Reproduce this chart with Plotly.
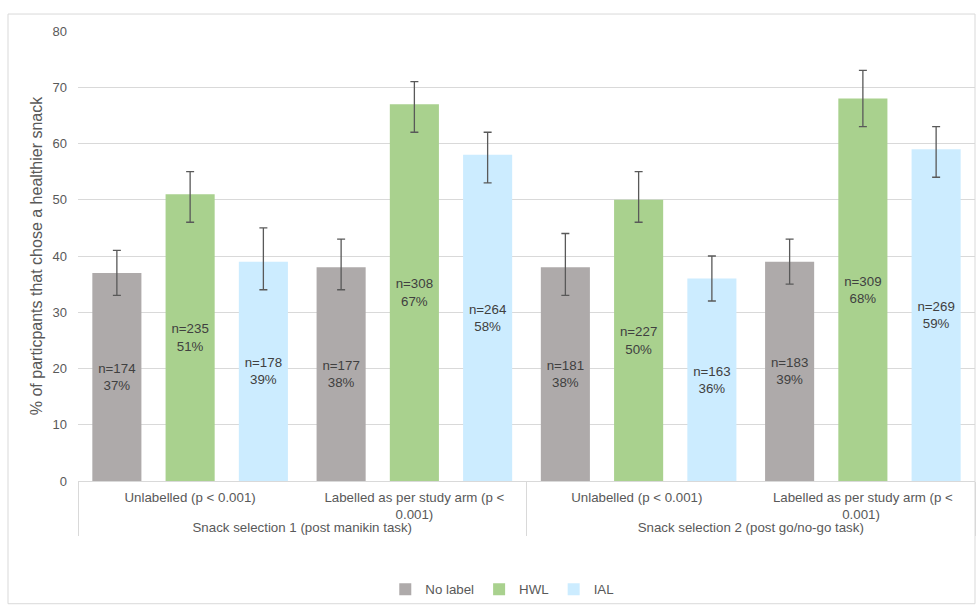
import plotly.graph_objects as go

outer = ["Snack selection 1 (post manikin task)"] * 2 + ["Snack selection 2 (post go/no-go task)"] * 2
inner = ["Unlabelled (p < 0.001)", "Labelled as per study arm (p <<br>0.001)",
         "Unlabelled (p < 0.001) ", "Labelled as per study arm (p <<br>0.001) "]

series = ["No label", "HWL", "IAL"]
colors = ["#AEAAAA", "#A9D18E", "#CCECFF"]
values = {
    "No label": [37, 38, 38, 39],
    "HWL": [51, 67, 50, 68],
    "IAL": [39, 58, 36, 59],
}
upper = {
    "No label": [41, 43, 44, 43],
    "HWL": [55, 71, 55, 73],
    "IAL": [45, 62, 40, 63],
}
lower = {
    "No label": [33, 34, 33, 35],
    "HWL": [46, 62, 46, 63],
    "IAL": [34, 53, 32, 54],
}
ns = {
    "No label": [174, 177, 181, 183],
    "HWL": [235, 308, 227, 309],
    "IAL": [178, 264, 163, 269],
}

FONT = "Liberation Sans, Arial"
fig = go.Figure()
for s, c in zip(series, colors):
    v = values[s]
    fig.add_trace(go.Bar(
        name=s,
        x=[outer, inner],
        y=v,
        marker=dict(color=c, line=dict(width=0)),
        text=[f"n={n}<br>{val}%" for n, val in zip(ns[s], v)],
        textposition="inside",
        insidetextanchor="middle",
        textangle=0,
        textfont=dict(color="#404040", size=13.3, family=FONT),
        error_y=dict(
            type="data", symmetric=False,
            array=[u - val for u, val in zip(upper[s], v)],
            arrayminus=[val - l for l, val in zip(lower[s], v)],
            color="#595959", thickness=1.3, width=4,
        ),
    ))

fig.update_layout(
    width=976, height=605,
    barmode="group",
    bargap=0.02,
    bargroupgap=0.33,
    plot_bgcolor="white",
    paper_bgcolor="white",
    margin=dict(l=78, r=1, t=31, b=123),
    font=dict(family=FONT, color="#595959", size=13.3),
    showlegend=True,
    legend=dict(orientation="h", x=0.473, xanchor="center", y=-0.24, yanchor="middle",
                bgcolor="rgba(0,0,0,0)",
                font=dict(size=13.3, color="#595959"), itemwidth=30, tracegroupgap=0),
    uniformtext=dict(mode=False),
)
fig.update_yaxes(
    range=[0, 80], dtick=10, showgrid=True, gridcolor="#D9D9D9", gridwidth=1,
    zeroline=False, showline=False, ticks="",
    tickfont=dict(size=13, color="#595959"),
    title=dict(text="% of particpants that chose a healthier snack", font=dict(size=16, color="#595959"), standoff=5),
    ticklabelstandoff=10,
)
fig.update_xaxes(
    type="multicategory",
    showline=True, linecolor="#D9D9D9", linewidth=1,
    showdividers=True, dividercolor="#D9D9D9", dividerwidth=1,
    tickfont=dict(size=13.3, color="#595959"),
    ticks="",
    ticklabelstandoff=4,
)
# outer chart frame
fig.add_shape(type="rect", xref="paper", yref="paper",
              x0=-70 / 897, x1=1.0, y0=-123 / 451, y1=1 + 17 / 451,
              line=dict(color="#D9D9D9", width=1), fillcolor="rgba(0,0,0,0)", layer="below")

fig.write_html("out.html", config={"displayModeBar": False},
               post_script="document.body.style.margin='0';")
